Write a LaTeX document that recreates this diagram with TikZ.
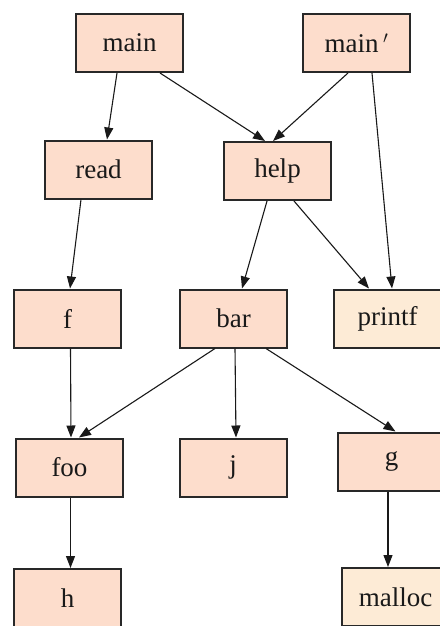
\documentclass[tikz,border=0pt]{standalone}
\usepackage{fontspec}
\setmainfont{Liberation Serif}
\usetikzlibrary{arrows.meta}
\definecolor{boxfill}{RGB}{253,221,204}
\definecolor{libfill}{RGB}{253,235,214}
\definecolor{boxline}{RGB}{40,40,40}
\tikzset{
  fn/.style={draw=boxline, line width=2pt, fill=boxfill, rectangle,
    minimum width=107pt, minimum height=58pt, inner sep=0pt,
    font=\fontsize{27}{30}\selectfont, text=black!90},
  lib/.style={fn, fill=libfill},
  call/.style={line width=1.1pt, draw=black!90,
    -{Triangle[length=12pt,width=9pt]}}
}
\begin{document}
\begin{tikzpicture}[x=1pt,y=-1pt]
\useasboundingbox (0,0) rectangle (439,626);
\node[fn] (main) at (129.5,43) {main};
\node[fn] (mainp) at (356.5,43) {main\,$'$};
\node[fn] (read) at (98.5,169.5) {read};
\node[fn] (help) at (277.5,171) {help};
\node[fn] (f) at (67.5,318.5) {f};
\node[fn] (bar) at (233.5,318.5) {bar};
\node[lib] (printf) at (387.5,318.5) {printf};
\node[fn] (foo) at (69.5,467.5) {foo};
\node[fn] (j) at (233,467.5) {j};
\node[fn] (g) at (391.5,461.5) {g};
\node[fn] (h) at (67.5,598) {h};
\node[lib] (malloc) at (395.5,597) {malloc};

\draw[call] ([xshift=-12.5pt]main.south) -- ([xshift=8.5pt]read.north);
\draw[call] ([xshift=30.5pt]main.south) -- ([xshift=-12.5pt]help.north);
\draw[call] ([xshift=-8.5pt]mainp.south) -- ([xshift=-4.5pt]help.north);
\draw[call] ([xshift=15.5pt]mainp.south) -- ([xshift=4.5pt]printf.north);
\draw[call] ([xshift=-17.5pt]read.south) -- ([xshift=2.5pt]f.north);
\draw[call] ([xshift=-10.5pt]help.south) -- ([xshift=8.5pt]bar.north);
\draw[call] ([xshift=16.5pt]help.south) -- ([xshift=-18.5pt]printf.north);
\draw[call] ([xshift=3pt]f.south) -- ([xshift=1.5pt]foo.north);
\draw[call] ([xshift=-18.5pt]bar.south) -- ([xshift=9.5pt]foo.north);
\draw[call] ([xshift=1.5pt]bar.south) -- ([xshift=3pt]j.north);
\draw[call] ([xshift=32.5pt]bar.south) -- ([xshift=4pt]g.north);
\draw[call] ([xshift=1pt]foo.south) -- ([xshift=3pt]h.north);
\draw[call] ([xshift=-3.5pt]g.south) -- ([xshift=-7.5pt]malloc.north);
\end{tikzpicture}
\end{document}
